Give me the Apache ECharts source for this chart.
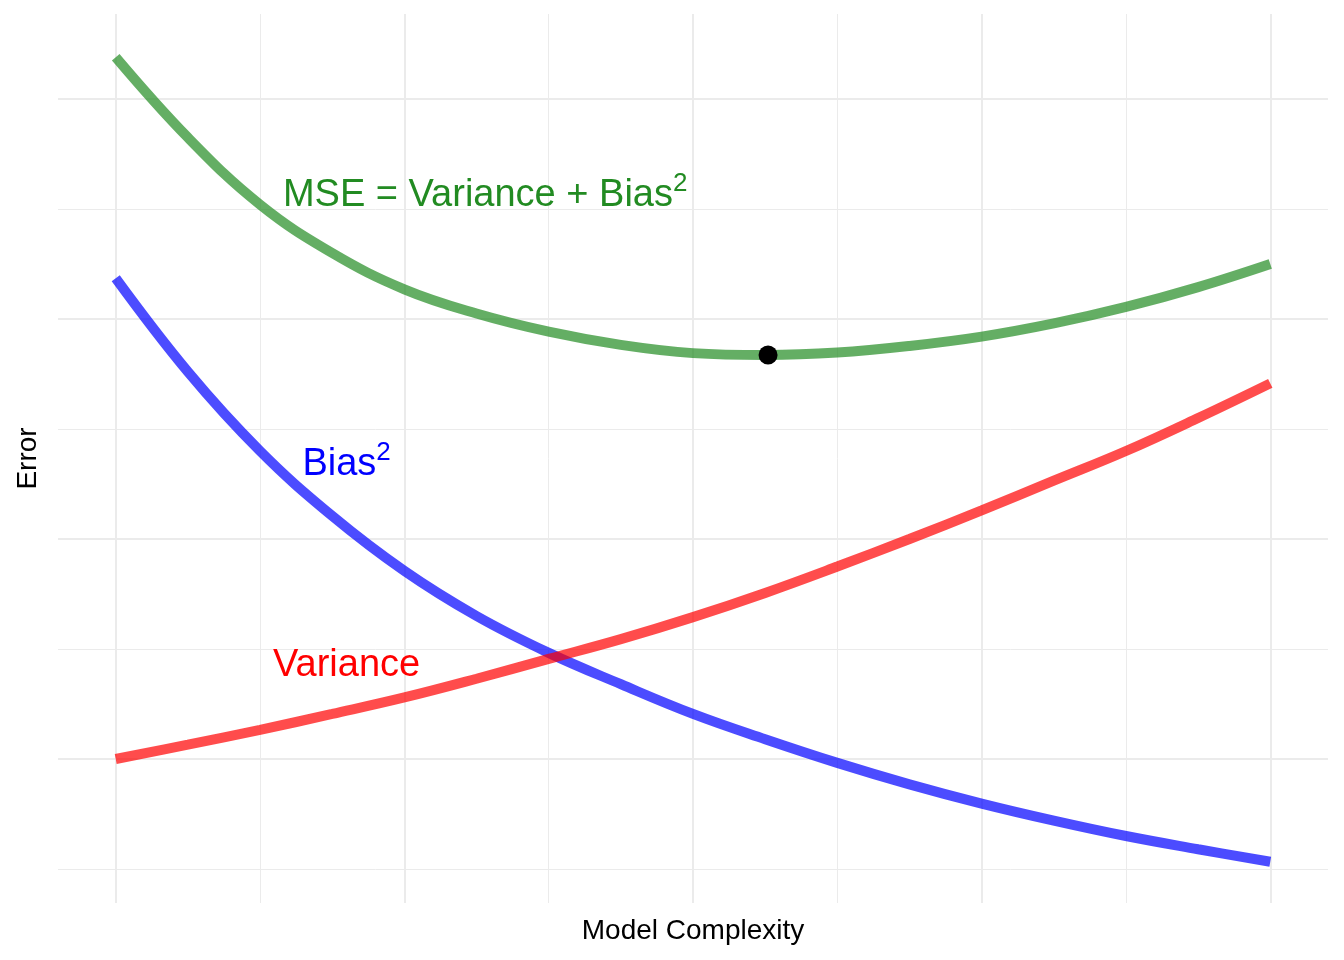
<!DOCTYPE html>
<html>
<head>
<meta charset="utf-8">
<script src="https://cdn.jsdelivr.net/npm/echarts@6/dist/echarts.min.js"></script>
<style>
html,body{margin:0;padding:0;background:#fff;}
#chart{width:1344px;height:960px;}
</style>
</head>
<body>
<div id="chart"></div>
<script>
// Model complexity (x) sample positions
const complexity = [0, 0.25, 0.5, 0.75, 1, 1.25, 1.5, 1.75, 2, 2.25, 2.5, 2.75, 3, 3.25, 3.5, 3.75, 4];
// Error values
const variance = [2.00, 2.13, 2.265, 2.41, 2.56, 2.73, 2.91, 3.09, 3.29, 3.51, 3.75, 4.00, 4.26, 4.53, 4.80, 5.10, 5.415];
const bias2    = [6.37, 5.52, 4.80, 4.21, 3.71, 3.30, 2.965, 2.68, 2.41, 2.18, 1.965, 1.77, 1.595, 1.44, 1.30, 1.18, 1.066];
const mse      = [8.38, 7.65, 7.04, 6.60, 6.27, 6.05, 5.885, 5.765, 5.69, 5.673, 5.695, 5.755, 5.84, 5.96, 6.11, 6.29, 6.50];
// Minimum of the MSE curve
const mseMin = [2.26, 5.673];
// Grid breaks
const xMajor = [0, 1, 2, 3, 4];
const xMinor = [0.5, 1.5, 2.5, 3.5];
const yMajor = [2, 4, 6, 8];
const yMinor = [1, 3, 5, 7];
// Annotations
const annoText = ['MSE = Variance + Bias', 'Bias', 'Variance'];
const annoSup  = ['2', '2', ''];
const annoPos  = [[1.28, 7.12], [0.80, 4.675], [0.80, 2.85]];
const annoColor = ['#228B22', '#0000FF', '#FF0000'];

const FONT = 'Liberation Sans, Arial, sans-serif';
const pair = (ys) => complexity.map((x, i) => [x, ys[i]]);

const gridLines = [];
xMajor.forEach(v => gridLines.push({xAxis: v, lineStyle: {width: 2}}));
xMinor.forEach(v => gridLines.push({xAxis: v, lineStyle: {width: 1}}));
yMajor.forEach(v => gridLines.push({yAxis: v, lineStyle: {width: 2}}));
yMinor.forEach(v => gridLines.push({yAxis: v, lineStyle: {width: 1}}));

const lineSeries = (name, ys, color) => ({
  name, type: 'line', data: pair(ys), smooth: 0.4, showSymbol: false, z: 3,
  lineStyle: {color, width: 10, cap: 'butt'}, silent: true
});

const annoSeries = annoText.map((t, i) => ({
  type: 'scatter', data: [annoPos[i]], symbolSize: 0, z: 5, silent: true,
  itemStyle: {opacity: 1},
  label: {
    show: true, position: 'inside', opacity: 1,
    formatter: annoSup[i] ? '{m|' + t + '}{s|' + annoSup[i] + '}' : '{m|' + t + '}',
    rich: {
      m: {fontSize: 38, fontFamily: FONT, color: annoColor[i], lineHeight: 50},
      s: {fontSize: 26, fontFamily: FONT, color: annoColor[i], lineHeight: 20, verticalAlign: 'top'}
    }
  }
}));

const chart = echarts.init(document.getElementById('chart'), null, {renderer: 'canvas'});
chart.setOption({
  animation: false,
  backgroundColor: '#ffffff',
  grid: {left: 58, right: 16, top: 14, bottom: 57},
  xAxis: {
    type: 'value', min: -0.2, max: 4.2,
    name: 'Model Complexity', nameLocation: 'middle', nameGap: 14,
    nameTextStyle: {fontSize: 28, fontFamily: FONT, color: '#000', verticalAlign: 'top'},
    axisLine: {show: false}, axisTick: {show: false}, axisLabel: {show: false}, splitLine: {show: false}
  },
  yAxis: {
    type: 'value', min: 0.691, max: 8.773,
    name: 'Error', nameLocation: 'middle', nameGap: 16, nameRotate: 90,
    nameTextStyle: {fontSize: 28, fontFamily: FONT, color: '#000'},
    axisLine: {show: false}, axisTick: {show: false}, axisLabel: {show: false}, splitLine: {show: false}
  },
  series: [
    {
      type: 'line', data: [[0, 2]], showSymbol: false, z: 0, silent: true,
      lineStyle: {opacity: 0},
      markLine: {
        silent: true, symbol: 'none', animation: false, z: 0,
        label: {show: false},
        emphasis: {disabled: true},
        lineStyle: {color: '#EBEBEB', type: 'solid'},
        data: gridLines
      }
    },
    lineSeries('MSE', mse, 'rgba(34,139,34,0.7)'),
    lineSeries('Bias2', bias2, 'rgba(0,0,255,0.7)'),
    lineSeries('Variance', variance, 'rgba(255,0,0,0.7)'),
    {
      type: 'scatter', data: [mseMin], symbol: 'circle', symbolSize: 19, z: 6, silent: true,
      itemStyle: {color: '#000000', opacity: 1}
    },
    ...annoSeries
  ]
});
</script>
</body>
</html>
